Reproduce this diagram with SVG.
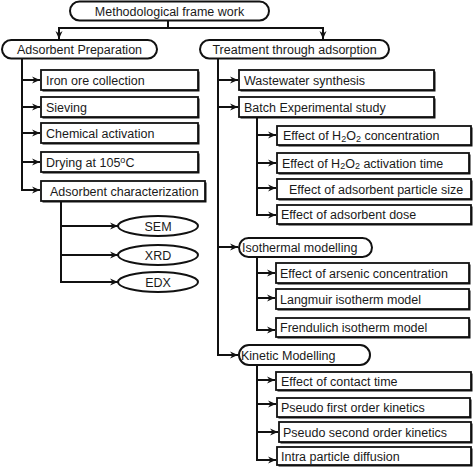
<svg xmlns="http://www.w3.org/2000/svg" width="474" height="467" viewBox="0 0 474 467">
<defs>
<marker id="ah" markerWidth="9" markerHeight="8" refX="8" refY="4" orient="auto" markerUnits="userSpaceOnUse">
<path d="M0,0.5 L8,4 L0,7.5 L2.5,4 z" fill="#111"/>
</marker>
<style>
.pill{fill:#fff;stroke:#111;stroke-width:2}
.box{fill:#fff;stroke:#111;stroke-width:1.8}
.sh{fill:#111}
.ell{fill:#fff;stroke:#111;stroke-width:2}
.t{font-family:"Liberation Sans",Arial,sans-serif;font-size:12.5px;fill:#1a1a1a}
.c{text-anchor:middle}
.sub{font-size:9px}
.con path{fill:none;stroke:#111;stroke-width:2}
.con .a{marker-end:url(#ah)}
</style>
</defs>
<rect width="474" height="467" fill="#fff"/>

<g class="con">
<path class="a" d="M168,20 V28 H59 V39"/>
<path class="a" d="M168,28 H323 V39"/>
<path class="a" d="M22,58 V190 H40"/>
<path class="a" d="M22,80 H40"/>
<path class="a" d="M22,107 H40"/>
<path class="a" d="M22,133 H40"/>
<path class="a" d="M22,162 H40"/>
<path class="a" d="M61,201 V282 H118"/>
<path class="a" d="M61,226 H118"/>
<path class="a" d="M61,255 H118"/>
<path class="a" d="M218,58 V355 H238"/>
<path class="a" d="M218,80 H238"/>
<path class="a" d="M218,107 H238"/>
<path class="a" d="M218,247 H238"/>
<path class="a" d="M257,117 V215 H276"/>
<path class="a" d="M257,135 H276"/>
<path class="a" d="M257,163 H276"/>
<path class="a" d="M257,188 H276"/>
<path class="a" d="M257,257 V330 H275"/>
<path class="a" d="M257,273 H275"/>
<path class="a" d="M257,298 H275"/>
<path class="a" d="M257,365 V460 H276"/>
<path class="a" d="M257,380 H275"/>
<path class="a" d="M257,404 H276"/>
<path class="a" d="M257,432 H278"/>
</g>

<g id="root"><rect class="pill" x="70" y="1.5" width="199" height="19" rx="9.5"/><text class="t c" x="169.5" y="15.5">Methodological frame work</text></g>

<g id="prep"><rect class="pill" x="2" y="40" width="155" height="18.5" rx="9.2"/><text class="t c" x="79.5" y="54">Adsorbent Preparation</text></g>
<g id="treat"><rect class="pill" x="200" y="40" width="189" height="18.5" rx="9.2"/><text class="t c" x="294.5" y="54">Treatment through adsorption</text></g>

<g id="iron"><rect class="sh" x="42.5" y="71.5" width="157" height="20"/><rect class="box" x="41" y="70" width="157" height="20"/><text class="t" x="46" y="84.5">Iron ore collection</text></g>
<g id="sieve"><rect class="sh" x="42.5" y="98.5" width="157" height="20"/><rect class="box" x="41" y="97" width="157" height="20"/><text class="t" x="46" y="111.5">Sieving</text></g>
<g id="chem"><rect class="sh" x="42.5" y="124.5" width="157" height="20"/><rect class="box" x="41" y="123" width="157" height="20"/><text class="t" x="46" y="137.5">Chemical activation</text></g>
<g id="dry"><rect class="sh" x="42.5" y="153.5" width="157" height="20"/><rect class="box" x="41" y="152" width="157" height="20"/><text class="t" x="46" y="166.5">Drying at 105<tspan class="sub" dy="-4">o</tspan><tspan dy="4">C</tspan></text></g>
<g id="char"><rect class="sh" x="42.5" y="182.5" width="164" height="20"/><rect class="box" x="41" y="181" width="164" height="20"/><text class="t" x="50" y="195.5">Adsorbent characterization</text></g>

<g id="sem"><ellipse class="ell" cx="158" cy="226" rx="40" ry="10"/><text class="t c" x="158" y="230.5">SEM</text></g>
<g id="xrd"><ellipse class="ell" cx="158" cy="255" rx="40" ry="10"/><text class="t c" x="158" y="259.5">XRD</text></g>
<g id="edx"><ellipse class="ell" cx="158" cy="282" rx="40" ry="10"/><text class="t c" x="158" y="286.5">EDX</text></g>

<g id="waste"><rect class="sh" x="240.5" y="71.5" width="195" height="20"/><rect class="box" x="239" y="70" width="195" height="20"/><text class="t" x="244" y="84.5">Wastewater synthesis</text></g>
<g id="batch"><rect class="sh" x="240.5" y="98.5" width="195" height="20"/><rect class="box" x="239" y="97" width="195" height="20"/><text class="t" x="244" y="111.5">Batch Experimental study</text></g>

<g id="h2o2c"><rect class="sh" x="278.5" y="127.5" width="194" height="19"/><rect class="box" x="277" y="126" width="194" height="19"/><text class="t" x="283" y="140">Effect of H<tspan class="sub" dy="1.5">2</tspan><tspan dy="-1.5">O</tspan><tspan class="sub" dy="1.5">2</tspan><tspan dy="-1.5"> concentration</tspan></text></g>
<g id="h2o2t"><rect class="sh" x="278.5" y="154.5" width="192" height="20"/><rect class="box" x="277" y="153" width="192" height="20"/><text class="t" x="282" y="167.5">Effect of H<tspan class="sub" dy="1.5">2</tspan><tspan dy="-1.5">O</tspan><tspan class="sub" dy="1.5">2</tspan><tspan dy="-1.5"> activation time</tspan></text></g>
<g id="psize"><rect class="sh" x="278.5" y="180.5" width="194" height="20"/><rect class="box" x="277" y="179" width="194" height="20"/><text class="t" x="289" y="193.5">Effect of adsorbent particle size</text></g>
<g id="dose"><rect class="sh" x="278.5" y="206.5" width="194" height="19"/><rect class="box" x="277" y="205" width="194" height="19"/><text class="t" x="281" y="219">Effect of adsorbent dose</text></g>

<g id="iso"><rect class="pill" x="239" y="238" width="133" height="19" rx="9.5"/><text class="t" x="242" y="252">Isothermal modelling</text></g>
<g id="arsenic"><rect class="sh" x="277.5" y="264.5" width="193" height="20"/><rect class="box" x="276" y="263" width="193" height="20"/><text class="t" x="280" y="277.5">Effect of arsenic concentration</text></g>
<g id="langmuir"><rect class="sh" x="277.5" y="290.5" width="193" height="20"/><rect class="box" x="276" y="289" width="193" height="20"/><text class="t" x="280" y="303.5">Langmuir isotherm model</text></g>
<g id="frend"><rect class="sh" x="277.5" y="319.5" width="193" height="19"/><rect class="box" x="276" y="318" width="193" height="19"/><text class="t" x="280" y="332">Frendulich isotherm model</text></g>

<g id="kin"><rect class="pill" x="239" y="345" width="131" height="20" rx="10"/><text class="t" x="241" y="359.5">Kinetic Modelling</text></g>
<g id="contact"><rect class="sh" x="277.5" y="373.5" width="195" height="18"/><rect class="box" x="276" y="372" width="195" height="18"/><text class="t" x="281" y="385.5">Effect of contact time</text></g>
<g id="pfo"><rect class="sh" x="278.5" y="399.5" width="193" height="19"/><rect class="box" x="277" y="398" width="193" height="19"/><text class="t" x="281" y="412">Pseudo first order kinetics</text></g>
<g id="pso"><rect class="sh" x="280.5" y="423.5" width="192" height="20"/><rect class="box" x="279" y="422" width="192" height="20"/><text class="t" x="283" y="436.5">Pseudo second order kinetics</text></g>
<g id="ipd"><rect class="sh" x="278.5" y="448.5" width="194" height="18"/><rect class="box" x="277" y="447" width="194" height="18"/><text class="t" x="281" y="460.5">Intra particle diffusion</text></g>
</svg>
